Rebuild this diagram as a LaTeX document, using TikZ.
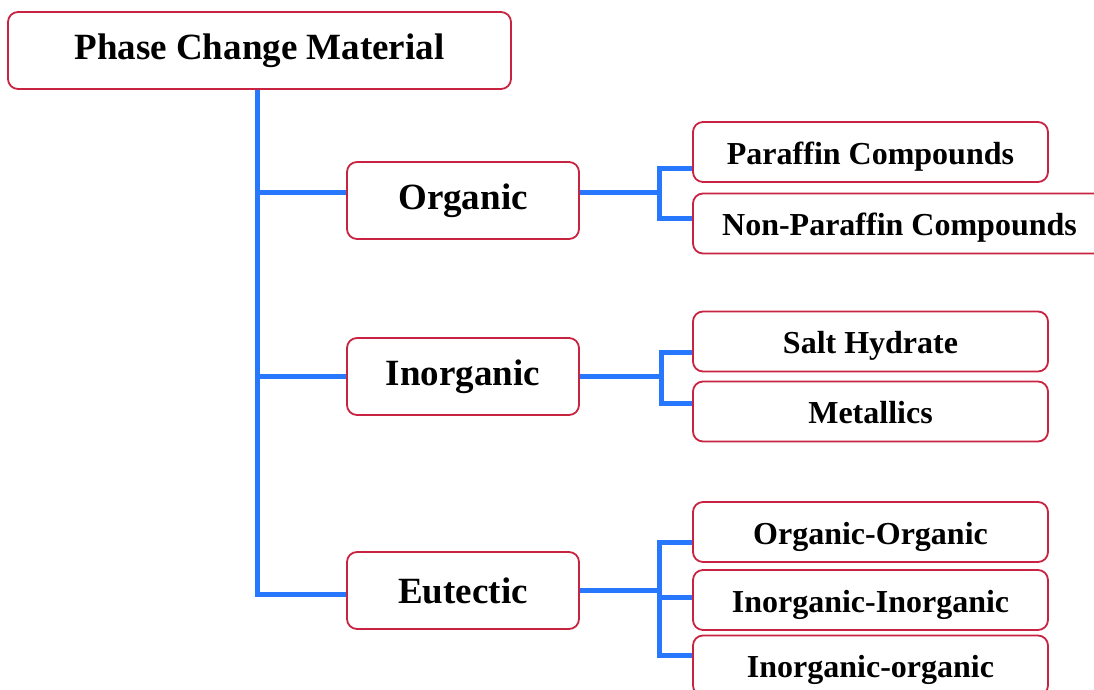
\documentclass[tikz,border=0pt]{standalone}
\usepackage{fontspec}
\setmainfont{Liberation Serif}
\usetikzlibrary{positioning}
\definecolor{pcmred}{RGB}{200,35,65}
\definecolor{pcmblue}{RGB}{40,120,255}
\begin{document}
\begin{tikzpicture}[x=1pt,y=-1pt]
\tikzstyle{box}=[draw=pcmred,line width=1.8pt,rounded corners=10pt,fill=white,inner sep=0pt,font=\bfseries]
\tikzstyle{topbox}=[box,minimum width=503pt,minimum height=77pt,font=\fontsize{37}{40}\selectfont\bfseries]
\tikzstyle{midbox}=[box,minimum width=232pt,minimum height=77pt,font=\fontsize{37}{40}\selectfont\bfseries]
\tikzstyle{leafbox}=[box,minimum width=355pt,minimum height=60pt,text height=31pt,text depth=7pt,font=\fontsize{32}{36}\selectfont\bfseries]
\tikzstyle{link}=[draw=pcmblue,line width=5pt]
\useasboundingbox (0,0) rectangle (1094,690);
\clip (0,0) rectangle (1094,690);
% boxes
\node[topbox] (pcm) at (259.5,50.5) {Phase Change Material};
\node[midbox] (org) at (463,200.5) {Organic};
\node[midbox] (inorg) at (463,376.5) {Inorganic};
\node[midbox] (eut) at (463,590.5) {Eutectic};
\node[leafbox] (par) at (870.5,152) {Paraffin Compounds};
\node[leafbox,minimum width=413pt] (npar) at (899.5,223.5) {Non-Paraffin Compounds};
\node[leafbox] (salt) at (870.5,341.5) {Salt Hydrate};
\node[leafbox] (metal) at (870.5,411.5) {Metallics};
\node[leafbox] (oo) at (870.5,532) {Organic-Organic};
\node[leafbox] (ii) at (870.5,600) {Inorganic-Inorganic};
\node[leafbox] (io) at (870.5,665.5) {Inorganic-organic};
% trunk
\draw[link] ([xshift=-2.5pt]pcm.south) |- ([yshift=-4pt]eut.west);
\draw[link] ([yshift=8pt]org.west) -- ++(-91.5,0);
\draw[link] (inorg.west) -- ++(-91.5,0);
% organic
\draw[link] ([yshift=8pt]org.east) -- ++(80,0) coordinate (orgj);
\draw[link] ([yshift=-16pt]par.west) -| (orgj) |- ([yshift=5.5pt]npar.west);
% inorganic
\draw[link] (inorg.east) -- ++(82,0) coordinate (inorgj);
\draw[link] ([yshift=-10.5pt]salt.west) -| (inorgj) |- ([yshift=8.5pt]metal.west);
% eutectic
\draw[link] (eut.east) -- ++(80,0) coordinate (eutj);
\draw[link] ([yshift=-10pt]oo.west) -| (eutj) |- ([yshift=10.5pt]io.west);
\draw[link] ([yshift=3pt]ii.west) -- ++(-35,0);
\end{tikzpicture}
\end{document}
